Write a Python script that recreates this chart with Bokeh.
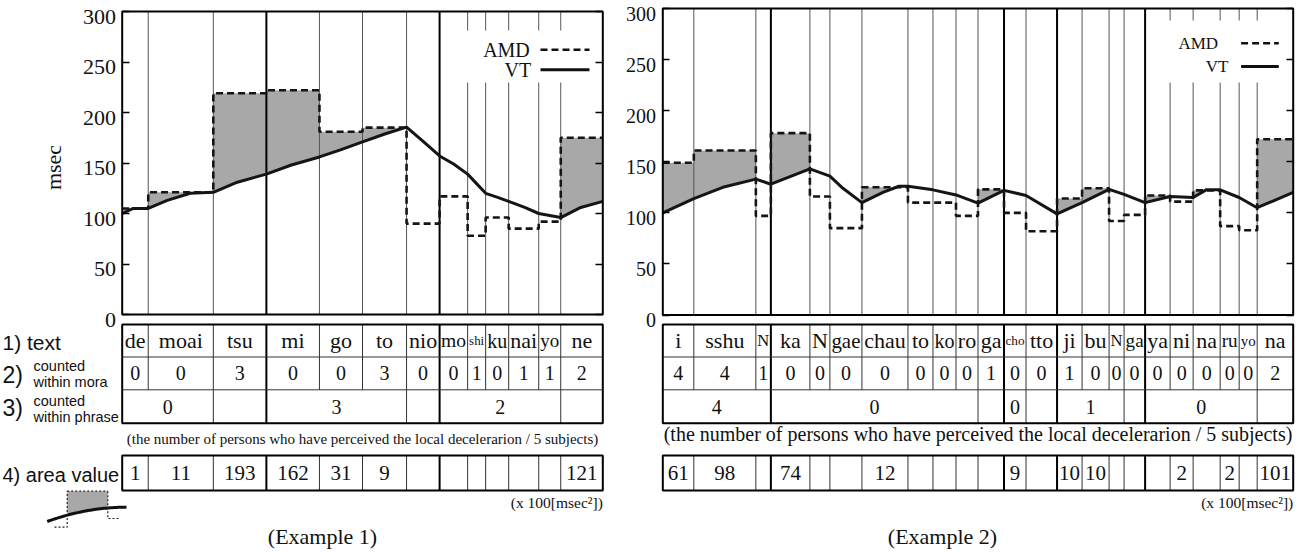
import numpy as np
from bokeh.plotting import figure
from bokeh.models import LinearAxis, FixedTicker, Range1d, ColumnDataSource, Grid
from bokeh.layouts import row
from bokeh.embed import file_html
from bokeh.resources import INLINE
from bokeh.core.properties import value

# ---------------- Example 1 data ----------------
ex1_morae = ["de", "moai", "tsu", "mi", "go", "to", "nio", "mo", "shi", "ku", "nai", "yo", "ne"]
ex1_dur = [26, 65, 53, 53, 43, 44, 33, 28, 18, 23, 30, 22, 42]
ex1_amd = [105, 121, 219, 222, 181, 185, 90, 117, 78, 96, 85, 92, 175]
ex1_vt_t = [0, 11, 26, 45, 68, 91, 115, 144, 169, 197, 218, 240, 263, 284, 300, 317,
            331, 345, 363, 375, 386, 402, 416, 438, 458, 480]
ex1_vt_v = [100, 105, 105, 113, 120, 121, 131, 139, 148, 156, 163, 171, 179, 185.5, 172, 157,
            149, 139, 120, 116, 112, 106, 100, 96, 106, 112]
ex1_mora_count = ["0", "0", "3", "0", "0", "3", "0", "0", "1", "0", "1", "1", "2"]
ex1_phrase_span = [2, 1, 3, 1, 5, 1]
ex1_phrase_count = ["0", "", "3", "", "2", ""]
ex1_phrase_breaks = [3, 7]
ex1_area = ["1", "11", "193", "162", "31", "9", "", "", "", "", "", "", "121"]

# ---------------- Example 2 data ----------------
ex2_morae = ["i", "sshu", "N", "ka", "N", "gae", "chau", "to", "ko", "ro", "ga", "cho", "tto",
             "ji", "bu", "N", "ga", "ya", "ni", "na", "ru", "yo", "na"]
ex2_dur = [31, 62, 15, 39, 20, 32, 46, 25, 23, 22, 26, 22, 31, 25, 27, 15, 21, 25, 23, 27, 19, 18, 36]
ex2_amd = [149, 161, 97, 178, 116, 85, 125, 110, 110, 97, 123, 100, 82, 114, 124, 92, 98,
           117, 111, 122, 87, 83, 172]
ex2_vt_t = [0, 31, 60, 93, 108, 147, 167, 180, 199, 220, 236, 245, 270, 293, 315, 341, 363,
            394, 419, 446, 461, 482, 507, 530, 543, 557, 576, 594, 630]
ex2_vt_v = [100, 114, 125, 133, 128, 143, 136, 124, 110, 120, 126, 126, 122.5, 117.5, 109.5,
            122, 117, 99, 110, 123, 118, 110, 116, 115, 122.5, 122.5, 115, 105, 120]
ex2_mora_count = ["4", "4", "1", "0", "0", "0", "0", "0", "0", "0", "1", "0", "0", "1", "0",
                  "0", "0", "0", "0", "0", "0", "0", "2"]
ex2_phrase_span = [3, 7, 1, 1, 1, 3, 1, 5, 1]
ex2_phrase_count = ["4", "0", "", "0", "", "1", "", "0", ""]
ex2_phrase_breaks = [3, 11, 13, 17]
ex2_area = ["61", "98", "", "74", "", "", "12", "", "", "", "", "9", "", "10", "10", "", "",
            "", "2", "", "2", "", "101"]

y_ticks = [0, 50, 100, 150, 200, 250, 300]
row_labels_big = ["1) text", "2)", "3)", "4) area value"]
row_labels_small = ["counted", "within mora", "counted", "within phrase"]
note_text = "(the number of persons who have perceived the local decelerarion / 5 subjects)"
unit_text = "(x 100[msec\u00b2])"

SERIF = value("Liberation Serif")
SANS = value("Liberation Sans")
PAGE_H = 552

EM = {"a": .444, "b": .5, "c": .444, "d": .5, "e": .444, "f": .333, "g": .5, "h": .5, "i": .278,
      "j": .278, "k": .5, "l": .278, "m": .778, "n": .5, "o": .5, "p": .5, "r": .333, "s": .389,
      "t": .278, "u": .5, "v": .5, "w": .722, "x": .5, "y": .5, "z": .444, "N": .722}


def em_width(s):
    return sum(EM.get(c, 0.5) for c in s)


def fit(s, width_px, base):
    w = em_width(s)
    if w == 0:
        return base
    return min(base, (width_px - 3) / w)


def build(d, cfg):
    dur = np.array(d["dur"], dtype=float)
    b = np.concatenate([[0.0], np.cumsum(dur)])
    total = b[-1]
    n = len(dur)
    c0, c1 = cfg["chart_px"]
    kx = (c1 - c0) / total
    ky = (cfg["y0_px"] - cfg["y300_px"]) / 300.0

    def X(px):
        return (np.asarray(px, dtype=float) - c0) / kx

    def Y(py):
        return (cfg["y0_px"] - np.asarray(py, dtype=float)) / ky

    f0, f1 = cfg["fig_px"]
    p = figure(width=int(f1 - f0), height=PAGE_H,
               x_range=Range1d(float(X(f0)), float(X(f1))),
               y_range=Range1d(float(Y(PAGE_H)), float(Y(0))),
               output_backend="svg", toolbar_location=None,
               x_axis_location=None, y_axis_location=None, title=None,
               min_border=0, outline_line_color=None, background_fill_color="white")
    p.min_border_left = p.min_border_right = p.min_border_top = p.min_border_bottom = 0
    for r in list(p.center):
        if isinstance(r, Grid):
            r.visible = False
            r.grid_line_color = None
    p.center = [r for r in p.center if not isinstance(r, Grid)]

    # axes (ticks pointing inward); labels drawn as text below
    ov = {t: "" for t in y_ticks}
    for loc, side in ((0.0, "left"), (total, "right")):
        ax = LinearAxis(fixed_location=loc, ticker=FixedTicker(ticks=y_ticks), bounds=(0, 300),
                        axis_line_color=None, major_tick_in=7, major_tick_out=0,
                        major_tick_line_width=1.5, major_tick_line_color="black",
                        minor_tick_line_color=None, major_label_overrides=ov)
        p.add_layout(ax, side)

    # shaded area where AMD exceeds VT
    fx, fy1, fy2 = [], [], []
    for i in range(n):
        xs = np.linspace(b[i], b[i + 1], 80)
        vt = np.interp(xs, d["vt_t"], d["vt_v"])
        fx.extend(xs)
        fy1.extend(vt)
        fy2.extend(np.maximum(d["amd"][i], vt))
    p.varea(x=fx, y1=fy1, y2=fy2, fill_color="#a8a8a8")

    # segment boundary lines in chart
    inner = list(range(1, n))
    thin = [i for i in inner if i not in d["breaks"]]
    thick = [i for i in inner if i in d["breaks"]]
    p.segment(x0=b[thin], y0=0, x1=b[thin], y1=300, line_color="#555555", line_width=1)
    p.segment(x0=b[thick], y0=0, x1=b[thick], y1=300, line_color="black", line_width=2)

    # legend background
    lb = cfg["legend_box_px"]
    p.quad(left=float(X(lb[0])), right=total, top=float(Y(lb[1])), bottom=float(Y(lb[2])),
           fill_color="white", line_color=None)

    # VT and AMD
    p.line(d["vt_t"], d["vt_v"], line_color="#151515", line_width=3, line_join="round")
    sx = np.repeat(b, 2)[1:-1]
    sy = np.repeat(np.array(d["amd"], dtype=float), 2)
    p.line(sx, sy, line_color="#151515", line_width=2.6, line_dash="7 4")

    # chart frame
    p.quad(left=0, right=total, bottom=0, top=300, fill_color=None,
           line_color="black", line_width=2)

    # legend
    la, lv = cfg["amd_px"], cfg["vt_px"]
    l0, l1 = cfg["leg_line_px"]
    p.text(x=[float(X(la[0])), float(X(lv[0]))], y=[float(Y(la[1])), float(Y(lv[1]))],
           text=["AMD", "VT"], text_font=SERIF, text_font_size=f"{cfg['leg_fs']}px",
           text_align="right", text_baseline="middle", text_color="#111111")
    p.line(X([l0, l1]), Y([la[1], la[1]]), line_color="#111111", line_width=2.6, line_dash="7 4")
    p.line(X([l0, l1]), Y([lv[1], lv[1]]), line_color="#111111", line_width=3)

    # tick labels
    p.text(x=[float(X(cfg["tick_right_px"]))] * len(y_ticks), y=y_ticks,
           text=[str(t) for t in y_ticks], text_font=SERIF,
           text_font_size=f"{cfg['tick_fs']}px", text_align="right",
           text_baseline="middle", y_offset=5, text_color="#111111")

    # ---------- table ----------
    r0, r1, r2, r3 = [float(Y(v)) for v in cfg["rows_px"]]
    a0, a1 = [float(Y(v)) for v in cfg["area_px"]]
    thin_b, thick_b = b[thin], b[thick]
    p.segment(x0=thin_b, y0=r0, x1=thin_b, y1=r2, line_color="#333333", line_width=1)
    gb = np.cumsum(d["phrase_span"])[:-1]
    g_thin = [g for g in gb if g not in d["breaks"]]
    p.segment(x0=b[g_thin], y0=r2, x1=b[g_thin], y1=r3, line_color="#333333", line_width=1)
    p.segment(x0=thick_b, y0=r0, x1=thick_b, y1=r3, line_color="black", line_width=2)
    p.segment(x0=[0, 0], y0=[r1, r2], x1=[total, total], y1=[r1, r2],
              line_color="#333333", line_width=1)
    p.quad(left=0, right=total, top=r0, bottom=r3, fill_color=None, line_color="black", line_width=2)
    p.segment(x0=thin_b, y0=a0, x1=thin_b, y1=a1, line_color="#333333", line_width=1)
    p.segment(x0=thick_b, y0=a0, x1=thick_b, y1=a1, line_color="black", line_width=2)
    p.quad(left=0, right=total, top=a0, bottom=a1, fill_color=None, line_color="black", line_width=2)

    mids = (b[:-1] + b[1:]) / 2
    wpx = dur * kx
    src = ColumnDataSource(dict(
        x=list(mids) * 3,
        y=[(r0 + r1) / 2] * n + [(r1 + r2) / 2] * n + [(a0 + a1) / 2] * n,
        t=list(d["morae"]) + list(d["mora_count"]) + list(d["area"]),
        fs=[f"{fit(s, w, 22):.1f}px" for s, w in zip(d["morae"], wpx)]
           + ["20px"] * n
           + [f"{fit(s, w, 21):.1f}px" for s, w in zip(d["area"], wpx)],
    ))
    p.text(x="x", y="y", text="t", source=src, text_font=SERIF,
           text_font_size=dict(field="fs"), text_align="center", text_baseline="middle",
           text_color="#111111")
    gedges = np.concatenate([[0], np.cumsum(d["phrase_span"])])
    gmid = (b[gedges[:-1]] + b[gedges[1:]]) / 2
    p.text(x=gmid, y=[(r2 + r3) / 2] * len(gmid), text=d["phrase_count"], text_font=SERIF,
           text_font_size="20px", text_align="center", text_baseline="middle", text_color="#111111")

    p.text(x=[total / 2], y=[float(Y(cfg["note_px"]))], text=[note_text], text_font=SERIF,
           text_font_size=f"{cfg['note_fs']}px", text_align="center", text_baseline="middle",
           text_color="#111111")
    p.text(x=[total], y=[float(Y(cfg["unit_px"]))], text=[unit_text], text_font=SERIF,
           text_font_size="15.5px", text_align="right", text_baseline="middle", text_color="#111111")
    p.text(x=[float(X(cfg["caption_px"][0]))], y=[float(Y(cfg["caption_px"][1]))],
           text=[cfg["caption"]], text_font=SERIF, text_font_size="22px", text_align="center",
           text_baseline="middle", text_color="#111111")

    if cfg.get("row_labels"):
        p.text(x=[float(X(53))], y=[float(Y(167))], text=["msec"], angle=np.pi / 2,
               text_font=SERIF, text_font_size="22px", text_align="center",
               text_baseline="middle", text_color="#111111")
        lx = float(X(2))
        big_src = ColumnDataSource(dict(x=[lx] * 4, y=list(Y([342, 374, 407, 474])),
                                        t=row_labels_big, fs=["21px", "23px", "23px", "20px"]))
        p.text(x="x", y="y", text="t", source=big_src, text_font=SANS,
               text_font_size=dict(field="fs"), text_align="left", text_baseline="middle",
               text_color="#111111")
        p.text(x=[float(X(33))] * 4, y=list(Y([365, 381, 400, 416])), text=row_labels_small,
               text_font=SANS, text_font_size="14.5px", text_align="left",
               text_baseline="middle", text_color="#111111")
        # schematic icon of an area value
        il, ir, it = 66.7, 107.3, 490.7
        cx = np.linspace(46.7, 126, 40)
        cy = 506.7 + 14.3 * ((126 - cx) / 79.3) ** 2
        m = (cx >= il) & (cx <= ir)
        ix = np.concatenate([[il], cx[m], [ir]])
        iy = 506.7 + 14.3 * ((126 - ix) / 79.3) ** 2
        p.varea(x=X(ix), y1=Y(iy), y2=[float(Y(it))] * len(ix), fill_color="#a8a8a8")
        p.multi_line(xs=[list(X([il, ir])), list(X([54, il, il])), list(X([118, ir, ir]))],
                     ys=[list(Y([it, it])), list(Y([526.7, 526.7, it])), list(Y([518, 518, it]))],
                     line_color="#222222", line_width=1.2, line_dash="2 2")
        p.line(X(cx), Y(cy), line_color="#111111", line_width=3)
    return p


d1 = dict(morae=ex1_morae, dur=ex1_dur, amd=ex1_amd, vt_t=ex1_vt_t, vt_v=ex1_vt_v,
          mora_count=ex1_mora_count, phrase_span=ex1_phrase_span, phrase_count=ex1_phrase_count,
          breaks=ex1_phrase_breaks, area=ex1_area)
d2 = dict(morae=ex2_morae, dur=ex2_dur, amd=ex2_amd, vt_t=ex2_vt_t, vt_v=ex2_vt_v,
          mora_count=ex2_mora_count, phrase_span=ex2_phrase_span, phrase_count=ex2_phrase_count,
          breaks=ex2_phrase_breaks, area=ex2_area)

cfg1 = dict(fig_px=(0, 615), chart_px=(121.7, 602.3), y0_px=314.0, y300_px=11.0,
            rows_px=(324, 356.5, 389.3, 422.7), note_px=438, area_px=(455, 490), unit_px=502,
            caption_px=(322, 536), caption="(Example 1)", note_fs=15, tick_fs=22,
            tick_right_px=115.5, legend_box_px=(462, 30, 82), amd_px=(529.3, 49.3),
            vt_px=(530.7, 69.3), leg_line_px=(540, 589), leg_fs=20, row_labels=True)
cfg2 = dict(fig_px=(615, 1302), chart_px=(662.3, 1292.7), y0_px=314.5, y300_px=8.0,
            rows_px=(324, 356.5, 389.3, 422.7), note_px=433, area_px=(455, 490), unit_px=502,
            caption_px=(942, 536), caption="(Example 2)", note_fs=20, tick_fs=20,
            tick_right_px=655.5, legend_box_px=(1158, 20, 82), amd_px=(1217.6, 42.7),
            vt_px=(1228, 66), leg_line_px=(1240.6, 1278.3), leg_fs=17, row_labels=False)

p1 = build(d1, cfg1)
p2 = build(d2, cfg2)
layout = row(p1, p2, spacing=0)
open("out.html", "w").write(file_html(layout, INLINE))
